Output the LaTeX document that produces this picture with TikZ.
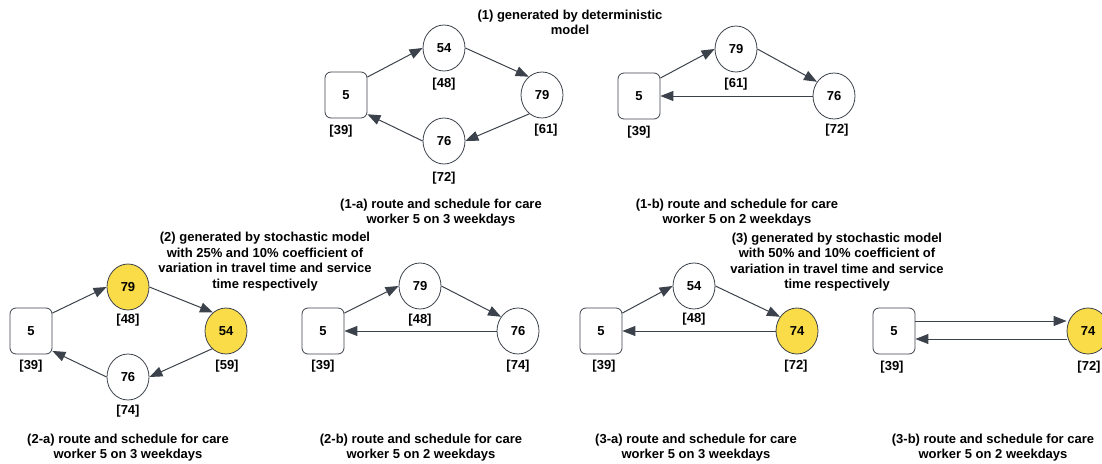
\documentclass[tikz,border=0pt]{standalone}
\usepackage{fontspec}
\setmainfont{Liberation Sans}
\usetikzlibrary{arrows.meta, shapes.geometric}
\definecolor{hiyellow}{RGB}{250,219,72}
\definecolor{edgegray}{RGB}{60,66,75}

\begin{document}
\begin{tikzpicture}[x=1pt, y=-1pt,
    font=\fontsize{13}{15.5}\selectfont\bfseries,
    depot/.style={rectangle, rounded corners=6pt, draw=edgegray, line width=0.8pt, minimum width=42pt, minimum height=46pt},
    client/.style={ellipse, draw=edgegray, line width=0.8pt, minimum width=42pt, minimum height=46pt, inner sep=0pt},
    late/.style={client, fill=hiyellow},
    caption/.style={align=center},
    arrow/.style={-{Triangle[length=13pt,width=10pt]}, draw=edgegray, line width=1pt}
]
\useasboundingbox (0,0) rectangle (1102,463);

% Row 1: deterministic model
\node[caption] (t1) at (570,22.5) {(1) generated by deterministic\\model};

% Panel 1-a
\node[depot] (d1a) at (346,95) {5};
\node[client] (c1a54) at (444,48) {54};
\node[client] (c1a79) at (542,95) {79};
\node[client] (c1a76) at (444,141) {76};
\node (l1a5) at (341,131) {[39]};
\node (l1a54) at (444,84) {[48]};
\node (l1a79) at (546,130) {[61]};
\node (l1a76) at (444,178) {[72]};
\node[caption] (cap1a) at (441,212.5) {(1-a) route and schedule for care\\worker 5 on 3 weekdays};

% Panel 1-b
\node[depot] (d1b) at (639,96) {5};
\node[client] (c1b79) at (736,49) {79};
\node[client] (c1b76) at (834,96) {76};
\node (l1b5) at (639,132) {[39]};
\node (l1b79) at (736,84) {[61]};
\node (l1b76) at (837,130) {[72]};
\node[caption] (cap1b) at (737,212.5) {(1-b) route and schedule for care\\worker 5 on 2 weekdays};

% Row 2: stochastic model, 25% / 10%
\node[caption] (t2) at (265,261.5) {(2) generated by stochastic model\\with 25\% and 10\% coefficient of\\variation in travel time and service\\time respectively};

% Panel 2-a
\node[depot] (d2a) at (31,331) {5};
\node[late] (c2a79) at (128,287) {79};
\node[late] (c2a54) at (226,331) {54};
\node[client] (c2a76) at (128,377) {76};
\node (l2a5) at (31,366) {[39]};
\node (l2a79) at (128,320) {[48]};
\node (l2a54) at (227,366) {[59]};
\node (l2a76) at (128,411) {[74]};
\node[caption] (cap2a) at (128,447.5) {(2-a) route and schedule for care\\worker 5 on 3 weekdays};

% Panel 2-b
\node[depot] (d2b) at (323,331) {5};
\node[client] (c2b79) at (420,286) {79};
\node[client] (c2b76) at (518,331) {76};
\node (l2b5) at (323,366) {[39]};
\node (l2b79) at (420,320) {[48]};
\node (l2b76) at (518,366) {[74]};
\node[caption] (cap2b) at (421,447.5) {(2-b) route and schedule for care\\worker 5 on 2 weekdays};

% Row 2: stochastic model, 50% / 10%
\node[caption] (t3) at (837,262) {(3) generated by stochastic model\\with 50\% and 10\% coefficient of\\variation in travel time and service\\time respectively};

% Panel 3-a
\node[depot] (d3a) at (601,331) {5};
\node[client] (c3a54) at (694,286) {54};
\node[late] (c3a74) at (797,331) {74};
\node (l3a5) at (604,366) {[39]};
\node (l3a54) at (694,319) {[48]};
\node (l3a74) at (796,366) {[72]};
\node[caption] (cap3a) at (696,447.5) {(3-a) route and schedule for care\\worker 5 on 3 weekdays};

% Panel 3-b
\node[depot] (d3b) at (894,331) {5};
\node[late] (c3b74) at (1088,331) {74};
\node (l3b5) at (892,367) {[39]};
\node (l3b74) at (1089,367) {[72]};
\node[caption] (cap3b) at (993,447.5) {(3-b) route and schedule for care\\worker 5 on 2 weekdays};

% Routes
\draw[arrow] (d1a.40) -- (c1a54.west);
\draw[arrow] (c1a54.east) -- (c1a79.126);
\draw[arrow] (c1a79.236) -- (c1a76.east);
\draw[arrow] (c1a76.west) -- (d1a.318);

\draw[arrow] (d1b.40) -- (c1b79.west);
\draw[arrow] (c1b79.east) -- (c1b76.140);
\draw[arrow] (c1b76.west) -- (d1b.east);

\draw[arrow] (d2a.40) -- (c2a79.west);
\draw[arrow] (c2a79.east) -- (c2a54.125);
\draw[arrow] (c2a54.232) -- (c2a76.east);
\draw[arrow] (c2a76.west) -- (d2a.317);

\draw[arrow] (d2b.40) -- (c2b79.west);
\draw[arrow] (c2b79.east) -- (c2b76.140);
\draw[arrow] (c2b76.west) -- (d2b.east);

\draw[arrow] (d3a.40) -- (c3a54.west);
\draw[arrow] (c3a54.east) -- (c3a74.140);
\draw[arrow] (c3a74.west) -- (d3a.east);

\draw[arrow] ([yshift=10pt]d3b.east) -- ([yshift=10pt]d3b.east -| c3b74.west);
\draw[arrow] ([yshift=-8pt]d3b.east -| c3b74.west) -- ([yshift=-8pt]d3b.east);

\end{tikzpicture}
\end{document}
